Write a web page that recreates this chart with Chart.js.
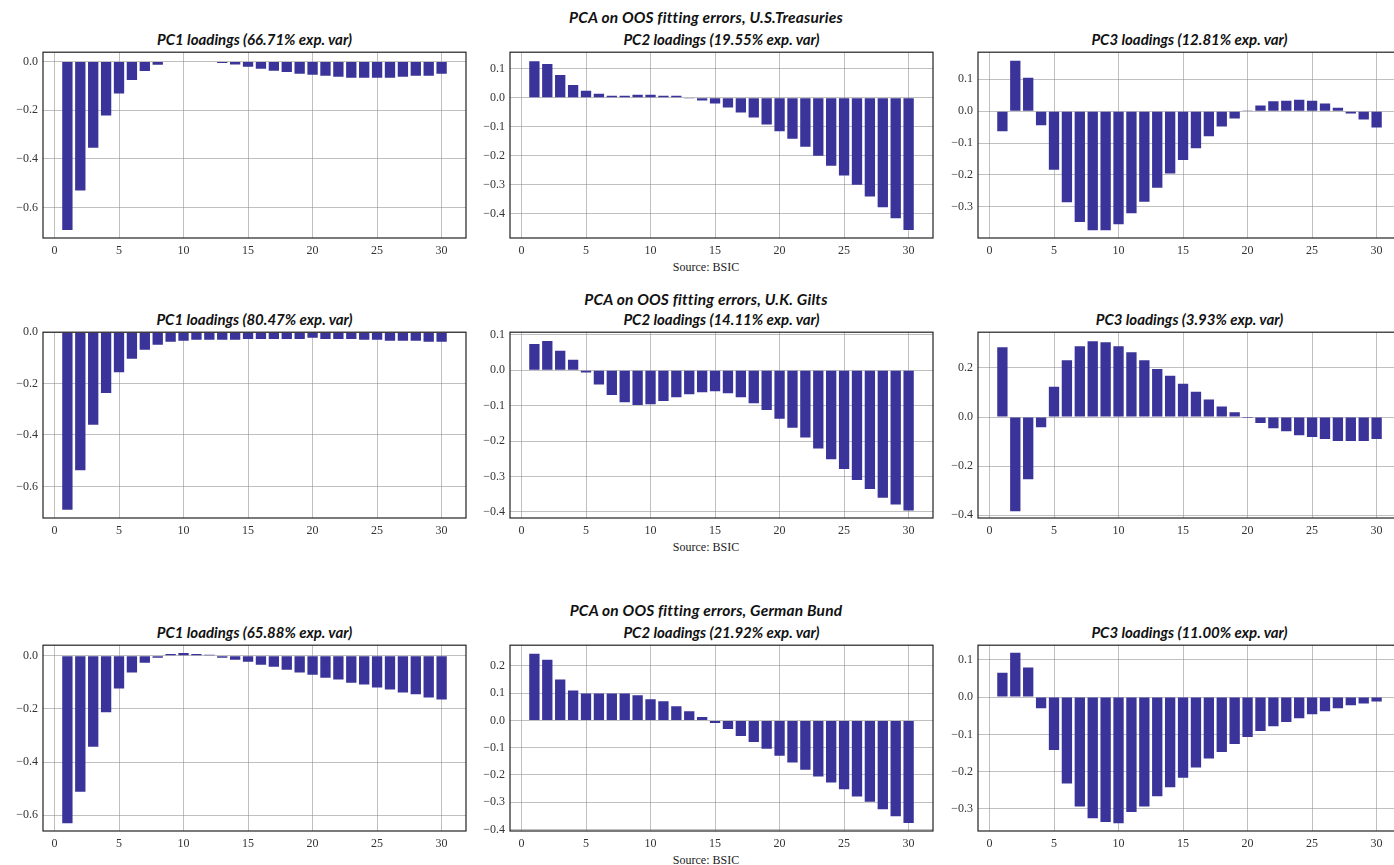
<!DOCTYPE html>
<html>
<head>
<meta charset="utf-8">
<script src="https://cdn.jsdelivr.net/npm/chart.js@4.4.0/dist/chart.umd.min.js"></script>
<style>
html, body { margin: 0; padding: 0; background: #fff; overflow: hidden; width: 1394px; height: 865px; position: relative; }
canvas { position: absolute; }
.t { position: absolute; font-family: Lato, sans-serif; font-weight: 700; font-style: italic; font-size: 15px; line-height: 18px; white-space: nowrap; transform: translateX(-50%); color: #111; }
.sup { font-size: 15.5px; letter-spacing: 0.2px; }
.src { position: absolute; font-family: "Liberation Serif", serif; font-size: 12px; line-height: 14px; white-space: nowrap; transform: translateX(-50%); color: #222; }
</style>
</head>
<body>
<script>
// maturities (years) on the x axis
const maturities = [1,2,3,4,5,6,7,8,9,10,11,12,13,14,15,16,17,18,19,20,21,22,23,24,25,26,27,28,29,30];
const xTicks = [0,5,10,15,20,25,30];

// U.S. Treasuries
const usPC1 = [-0.692,-0.530,-0.354,-0.222,-0.132,-0.076,-0.039,-0.014,-0.002,0.002,0.002,0.000,-0.006,-0.013,-0.022,-0.030,-0.038,-0.043,-0.050,-0.055,-0.059,-0.063,-0.067,-0.067,-0.067,-0.067,-0.063,-0.059,-0.059,-0.050];
const usPC2 = [0.126,0.116,0.078,0.044,0.024,0.014,0.007,0.007,0.010,0.010,0.007,0.007,-0.001,-0.010,-0.020,-0.034,-0.051,-0.068,-0.092,-0.116,-0.142,-0.169,-0.200,-0.235,-0.268,-0.300,-0.341,-0.378,-0.416,-0.456];
const usPC3 = [-0.063,0.158,0.105,-0.044,-0.184,-0.286,-0.348,-0.374,-0.374,-0.355,-0.320,-0.284,-0.240,-0.196,-0.153,-0.116,-0.079,-0.048,-0.023,0.002,0.018,0.031,0.033,0.036,0.033,0.024,0.011,-0.007,-0.026,-0.051];

// U.K. Gilts
const ukPC1 = [-0.691,-0.537,-0.360,-0.237,-0.156,-0.103,-0.068,-0.049,-0.037,-0.033,-0.029,-0.029,-0.029,-0.029,-0.026,-0.026,-0.026,-0.026,-0.026,-0.022,-0.026,-0.026,-0.026,-0.029,-0.029,-0.033,-0.033,-0.033,-0.037,-0.037];
const ukPC2 = [0.074,0.083,0.055,0.030,-0.006,-0.040,-0.070,-0.090,-0.098,-0.096,-0.087,-0.076,-0.068,-0.062,-0.059,-0.065,-0.076,-0.093,-0.112,-0.137,-0.162,-0.190,-0.221,-0.251,-0.279,-0.310,-0.335,-0.360,-0.379,-0.396];
const ukPC3 = [0.285,-0.384,-0.254,-0.042,0.123,0.232,0.289,0.309,0.305,0.289,0.264,0.232,0.196,0.168,0.136,0.103,0.071,0.043,0.019,-0.004,-0.024,-0.046,-0.058,-0.074,-0.082,-0.090,-0.098,-0.098,-0.098,-0.090];

// German Bund
const dePC1 = [-0.630,-0.511,-0.342,-0.212,-0.123,-0.063,-0.026,-0.007,0.007,0.011,0.007,0.004,-0.007,-0.015,-0.022,-0.034,-0.041,-0.052,-0.063,-0.071,-0.082,-0.089,-0.101,-0.108,-0.119,-0.127,-0.138,-0.145,-0.157,-0.164];
const dePC2 = [0.245,0.223,0.150,0.110,0.099,0.099,0.099,0.099,0.092,0.078,0.070,0.052,0.034,0.012,-0.010,-0.032,-0.057,-0.079,-0.104,-0.130,-0.155,-0.181,-0.206,-0.228,-0.253,-0.279,-0.299,-0.326,-0.352,-0.377];
const dePC3 = [0.065,0.119,0.079,-0.030,-0.142,-0.232,-0.293,-0.325,-0.335,-0.338,-0.308,-0.293,-0.266,-0.242,-0.216,-0.189,-0.165,-0.147,-0.126,-0.107,-0.091,-0.078,-0.067,-0.057,-0.046,-0.038,-0.030,-0.022,-0.017,-0.012];

const suptitles = ['PCA on OOS fitting errors, U.S.Treasuries', 'PCA on OOS fitting errors, U.K. Gilts', 'PCA on OOS fitting errors, German Bund'];
const pcTitles = [
  ['PC1 loadings (66.71% exp. var)', 'PC2 loadings (19.55% exp. var)', 'PC3 loadings (12.81% exp. var)'],
  ['PC1 loadings (80.47% exp. var)', 'PC2 loadings (14.11% exp. var)', 'PC3 loadings (3.93% exp. var)'],
  ['PC1 loadings (65.88% exp. var)', 'PC2 loadings (21.92% exp. var)', 'PC3 loadings (11.00% exp. var)']
];
const series = [[usPC1, usPC2, usPC3], [ukPC1, ukPC2, ukPC3], [dePC1, dePC2, dePC3]];
const yTicks = [
  [[0,-0.2,-0.4,-0.6], [0.1,0,-0.1,-0.2,-0.3,-0.4], [0.1,0,-0.1,-0.2,-0.3]],
  [[0,-0.2,-0.4,-0.6], [0.1,0,-0.1,-0.2,-0.3,-0.4], [0.2,0,-0.2,-0.4]],
  [[0,-0.2,-0.4,-0.6], [0.2,0.1,0,-0.1,-0.2,-0.3,-0.4], [0.1,0,-0.1,-0.2,-0.3]]
];
const yRange = [
  [[-0.725,0.038], [-0.484,0.157], [-0.398,0.185]],
  [[-0.723,0.0], [-0.417,0.1075], [-0.412,0.346]],
  [[-0.659,0.040], [-0.406,0.276], [-0.359,0.139]]
];

// layout
const colLeft = [43, 510, 978];
const rowTop = [50, 330, 643];
const plotW = 423, plotH = 188, yW = 43, padTop = 10, xH = 26;
const barColor = '#3a3399';
const gridColor = 'rgba(140,140,140,0.55)';
const tickFont = { family: '"Liberation Serif", serif', size: 12 };

const frame = {
  id: 'frame',
  afterDraw(c) {
    const a = c.chartArea, x = c.ctx;
    x.save();
    x.strokeStyle = '#222';
    x.lineWidth = 1.2;
    x.strokeRect(a.left, a.top, a.right - a.left, a.bottom - a.top);
    x.restore();
  }
};

const fmt = v => (v < 0 ? '\u2212' : '') + Math.abs(v).toFixed(1);

function addText(cls, txt, cx, cy) {
  const d = document.createElement('div');
  d.className = cls;
  d.textContent = txt;
  d.style.left = cx + 'px';
  d.style.top = (cy - 9) + 'px';
  document.body.appendChild(d);
}

for (let r = 0; r < 3; r++) {
  addText('t sup', suptitles[r], 706, rowTop[r] - (r == 1 ? 31 : 33));
  addText('src', 'Source: BSIC', 706, rowTop[r] + plotH + 31);
  for (let c = 0; c < 3; c++) {
    addText('t', pcTitles[r][c], colLeft[c] + plotW / 2, rowTop[r] - 11);
    const cv = document.createElement('canvas');
    cv.width = yW + plotW + 4;
    cv.height = padTop + plotH + xH;
    cv.style.left = (colLeft[c] - yW) + 'px';
    cv.style.top = (rowTop[r] - padTop) + 'px';
    document.body.appendChild(cv);
    const yt = yTicks[r][c];
    new Chart(cv, {
      type: 'bar',
      data: {
        labels: maturities,
        datasets: [{
          data: series[r][c],
          backgroundColor: barColor,
          borderWidth: 0,
          barPercentage: 0.8,
          categoryPercentage: 1.0
        }]
      },
      options: {
        responsive: false,
        animation: false,
        layout: { padding: { top: padTop, right: 4, left: 0, bottom: 0 } },
        plugins: { legend: { display: false }, tooltip: { enabled: false } },
        scales: {
          x: {
            type: 'linear',
            min: -0.89,
            max: 31.89,
            offset: false,
            z: 1,
            afterBuildTicks: s => { s.ticks = xTicks.map(v => ({ value: v })); },
            afterFit: s => { s.height = xH; },
            grid: { color: gridColor, lineWidth: 1, drawTicks: false, offset: false },
            border: { display: false },
            ticks: { padding: 6, font: tickFont, color: '#333', maxRotation: 0, autoSkip: false, callback: v => String(v) }
          },
          y: {
            min: yRange[r][c][0],
            max: yRange[r][c][1],
            z: 1,
            afterBuildTicks: s => { s.ticks = yt.map(v => ({ value: v })); },
            afterFit: s => { s.width = yW; },
            grid: { color: gridColor, lineWidth: 1, drawTicks: false },
            border: { display: false },
            ticks: { padding: 5, font: tickFont, color: '#333', autoSkip: false, callback: v => fmt(v) }
          }
        }
      },
      plugins: [frame]
    });
  }
}
</script>
</body>
</html>
